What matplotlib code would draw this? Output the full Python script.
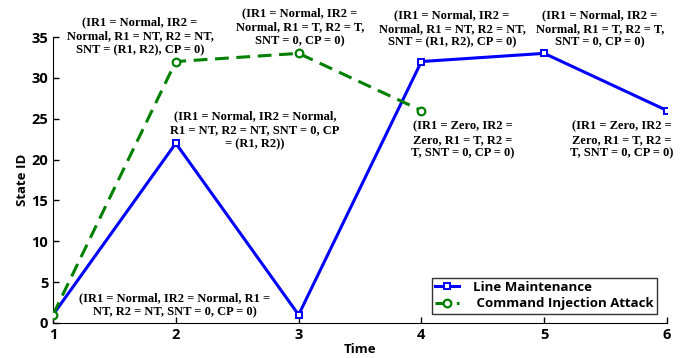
import matplotlib
matplotlib.use("Agg")
import matplotlib.pyplot as plt

time_lm = [1, 2, 3, 4, 5, 6]
state_lm = [1, 22, 1, 32, 33, 26]
time_cia = [1, 2, 3, 4]
state_cia = [1, 32, 33, 26]
x_ticks = [1, 2, 3, 4, 5, 6]
y_ticks = [0, 5, 10, 15, 20, 25, 30, 35]

annotations = [
    ("(IR1 = Normal, IR2 =\nNormal, R1 = NT, R2 = NT,\nSNT = (R1, R2), CP = 0)", 1.708, 35.1),
    ("(IR1 = Normal, IR2 =\nNormal, R1 = T, R2 = T,\nSNT = 0, CP = 0)", 3.01, 36.2),
    ("(IR1 = Normal, IR2 = Normal,\nR1 = NT, R2 = NT, SNT = 0, CP\n= (R1, R2))", 2.645, 23.6),
    ("(IR1 = Normal, IR2 = Normal, R1 =\nNT, R2 = NT, SNT = 0, CP = 0)", 1.99, 2.2),
    ("(IR1 = Normal, IR2 =\nNormal, R1 = NT, R2 = NT,\nSNT = (R1, R2), CP = 0)", 4.25, 36.0),
    ("(IR1 = Normal, IR2 =\nNormal, R1 = T, R2 = T,\nSNT = 0, CP = 0)", 5.455, 36.0),
    ("(IR1 = Zero, IR2 =\nZero, R1 = T, R2 =\nT, SNT = 0, CP = 0)", 4.34, 22.4),
    ("(IR1 = Zero, IR2 =\nZero, R1 = T, R2 =\nT, SNT = 0, CP = 0)", 5.63, 22.4),
]

fig = plt.figure(figsize=(6.83, 3.58), dpi=100)
ax = fig.add_axes([0.0776, 0.0978, 0.899, 0.7988])

ax.plot(time_lm, state_lm, color="#0000FF", lw=2.2, marker="s", ms=4.5,
        mfc="white", mec="#0000FF", mew=1.4, label="Line Maintenance", zorder=3)
ax.plot(time_cia, state_cia, color="#008000", lw=2.2, ls=(0, (4.5, 2.5)), marker="o", ms=5.5,
        mfc="white", mec="#008000", mew=1.6, label=" Command Injection Attack", zorder=3)

ax.set_xlim(1, 6)
ax.set_ylim(0, 35)
ax.set_xticks(x_ticks)
ax.set_yticks(y_ticks)
for s in ["top", "right"]:
    ax.spines[s].set_visible(False)
ax.tick_params(direction="in", length=4, width=1, labelsize=10.5)
for lab in ax.get_xticklabels() + ax.get_yticklabels():
    lab.set_fontweight("bold")
    lab.set_fontfamily("Open Sans")
ax.set_xlabel("Time", fontsize=9.5, fontweight="bold", family="Open Sans", labelpad=1)
ax.set_ylabel("State ID", fontsize=9.5, fontweight="bold", family="Open Sans", labelpad=2)

for txt, x, y in annotations:
    ax.text(x, y, txt, ha="center", va="center", fontsize=9, fontweight="bold",
            family="Liberation Serif", linespacing=1.2, clip_on=False)

leg = ax.legend(loc="lower right", bbox_to_anchor=(0.995, 0.01), frameon=True, fancybox=False,
                edgecolor="black", prop={"family": "Open Sans", "weight": "bold", "size": 9.5},
                handlelength=1.8, borderpad=0.25, labelspacing=0.25, handletextpad=1.1)
leg.get_frame().set_linewidth(1.0)

fig.savefig("out.png", dpi=100)
